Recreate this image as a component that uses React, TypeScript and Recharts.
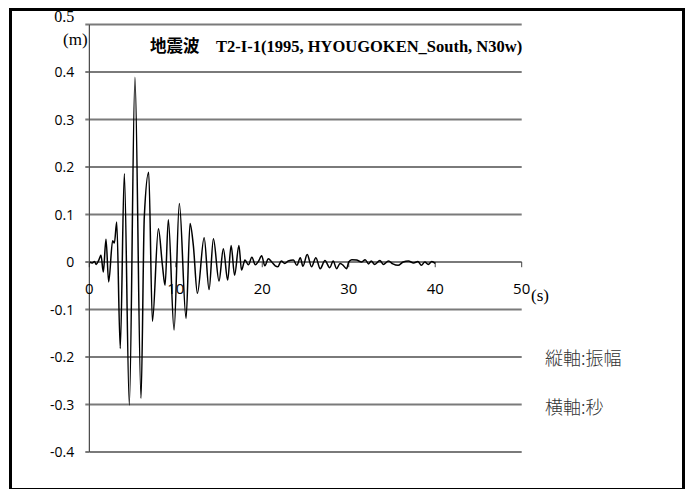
import React from "react";
import {
    LineChart,
    Line,
    XAxis,
    YAxis,
    CartesianGrid,
    ReferenceLine,
} from "recharts";

// seismic record, seconds / metres (peaks and troughs)
const times = [
    0, 0.35, 0.6, 0.8, 1.1, 1.35, 1.62, 1.93, 2.24, 2.7, 2.9, 3.17, 3.58, 4.05,
    4.63, 5.28, 5.98, 6.36, 6.87, 7.3, 7.99, 8.45, 8.76, 9.14, 9.8, 10.41, 11.19,
    11.65, 12.03, 12.5, 13.28, 13.85, 14.35, 15.0, 15.5, 16.0, 16.4, 16.8, 17.3,
    17.6, 18.0, 18.4, 18.8, 19.2, 19.55, 19.93, 20.3, 20.7, 21.1, 21.5, 21.8,
    22.2, 22.6, 23.0, 23.6, 24.0, 24.4, 24.7, 25.2, 25.7, 26.2, 26.7, 27.25,
    27.8, 28.2, 28.6, 29.0, 29.3, 29.75, 30.0, 30.35, 30.9, 31.5, 31.9, 32.3,
    32.6, 33.0, 33.6, 34.0, 34.6, 35.1, 35.7, 36.3, 36.9, 37.5, 38.0, 38.4,
    38.8, 39.2, 39.6, 40.0,
];
const amps = [
    0, -0.002, 0.001, -0.005, 0.004, 0.014, -0.021, 0.048, -0.042, 0.045, 0.04,
    0.084, -0.182, 0.186, -0.301, 0.389, -0.287, 0.095, 0.189, -0.125, 0.07,
    -0.006, -0.049, 0.089, -0.143, 0.123, -0.119, 0.081, 0.035, -0.066, 0.051,
    -0.058, 0.049, -0.04, 0.028, -0.038, 0.035, -0.028, 0.035, -0.017, 0.004,
    -0.006, 0.01, -0.006, 0.001, 0.013, -0.008, 0.007, 0, -0.008, -0.01, 0.002,
    -0.003, 0.002, 0.004, -0.007, 0.009, -0.009, 0.016, -0.01, 0.009, -0.014,
    0.003, -0.012, 0.002, -0.014, -0.003, -0.006, -0.014, 0, 0.005, 0.004, 0,
    0.005, -0.004, 0.002, -0.005, 0.003, -0.005, 0.002, -0.004, -0.007, 0,
    0.002, -0.002, 0.001, -0.007, 0, -0.005, 0.001, -0.003,
];

const yTicks = [-0.4, -0.3, -0.2, -0.1, 0, 0.1, 0.2, 0.3, 0.4, 0.5];
const xTicks = [0, 10, 20, 30, 40, 50];

const data = times.map((t, i) => ({ t, v: amps[i] }));

const serif = '"Liberation Serif", "Noto Sans CJK JP", serif';
const sans = '"Open Sans", "Noto Sans", sans-serif';

const YTick = (props: any) => {
    const { x, y, payload } = props;
    const top = payload.value === 0.5;
    return (
        <text
            x={x}
            y={top ? y - 8 : y}
            dy={5}
            textAnchor="end"
            fontSize={top ? 16 : 14}
            fontFamily={top ? serif : sans}
            fill="#000"
        >
            {String(payload.value)}
        </text>
    );
};

export default function App() {
    return (
        <div
            style={{
                position: "absolute",
                left: 0,
                top: 0,
                width: 691,
                height: 489,
                background: "#fff",
                overflow: "hidden",
            }}
        >
            <div
                style={{
                    position: "absolute",
                    left: 9,
                    top: 8,
                    width: 676,
                    height: 483,
                    border: "3px solid #000",
                    boxSizing: "border-box",
                }}
            />
            <LineChart
                width={691}
                height={489}
                data={data}
                margin={{ top: 24.5, right: 169.3, bottom: 37, left: 0 }}
                style={{ position: "absolute", left: 0, top: 0 }}
            >
                <CartesianGrid
                    vertical={false}
                    stroke="#7a7a7a"
                    strokeWidth={2}
                />
                <XAxis
                    dataKey="t"
                    type="number"
                    domain={[0, 50]}
                    ticks={xTicks}
                    hide
                />
                <YAxis
                    type="number"
                    domain={[-0.4, 0.5]}
                    ticks={yTicks}
                    width={89.3}
                    axisLine={{ stroke: "#222", strokeWidth: 1 }}
                    tickLine={{ stroke: "#7a7a7a", strokeWidth: 2 }}
                    tickSize={4}
                    tickMargin={11}
                    tick={<YTick />}
                    interval={0}
                />
                {xTicks.map((t) => (
                    <ReferenceLine
                        key={t}
                        segment={[
                            { x: t, y: 0 },
                            { x: t, y: -0.011 },
                        ]}
                        stroke="#444"
                        strokeWidth={1}
                        label={{
                            value: String(t),
                            position: "bottom",
                            offset: 16,
                            fontSize: 15,
                            fontFamily: sans,
                            fill: "#000",
                        }}
                    />
                ))}
                <Line
                    type="monotone"
                    dataKey="v"
                    stroke="#000"
                    strokeWidth={1.5}
                    dot={false}
                    isAnimationActive={false}
                />
            </LineChart>
            <div
                style={{
                    position: "absolute",
                    left: 150,
                    top: 38,
                    fontFamily: serif,
                    fontWeight: "bold",
                    fontSize: 16.5,
                    lineHeight: "18px",
                    whiteSpace: "nowrap",
                    color: "#000",
                }}
            >
                地震波　T2-I-1(1995, HYOUGOKEN_South, N30w)
            </div>
            <div
                style={{
                    position: "absolute",
                    left: 63,
                    top: 30,
                    fontFamily: serif,
                    fontSize: 17,
                    lineHeight: "19px",
                    color: "#000",
                }}
            >
                (m)
            </div>
            <div
                style={{
                    position: "absolute",
                    left: 531,
                    top: 286,
                    fontFamily: serif,
                    fontSize: 17,
                    lineHeight: "19px",
                    color: "#000",
                }}
            >
                (s)
            </div>
            <div
                style={{
                    position: "absolute",
                    left: 545,
                    top: 347,
                    fontFamily: '"Noto Sans CJK JP", sans-serif',
                    fontSize: 18,
                    fontWeight: 300,
                    lineHeight: "21px",
                    color: "#333",
                    whiteSpace: "nowrap",
                }}
            >
                縦軸:振幅
            </div>
            <div
                style={{
                    position: "absolute",
                    left: 545,
                    top: 396,
                    fontFamily: '"Noto Sans CJK JP", sans-serif',
                    fontSize: 18,
                    fontWeight: 300,
                    lineHeight: "21px",
                    color: "#333",
                    whiteSpace: "nowrap",
                }}
            >
                横軸:秒
            </div>
        </div>
    );
}
